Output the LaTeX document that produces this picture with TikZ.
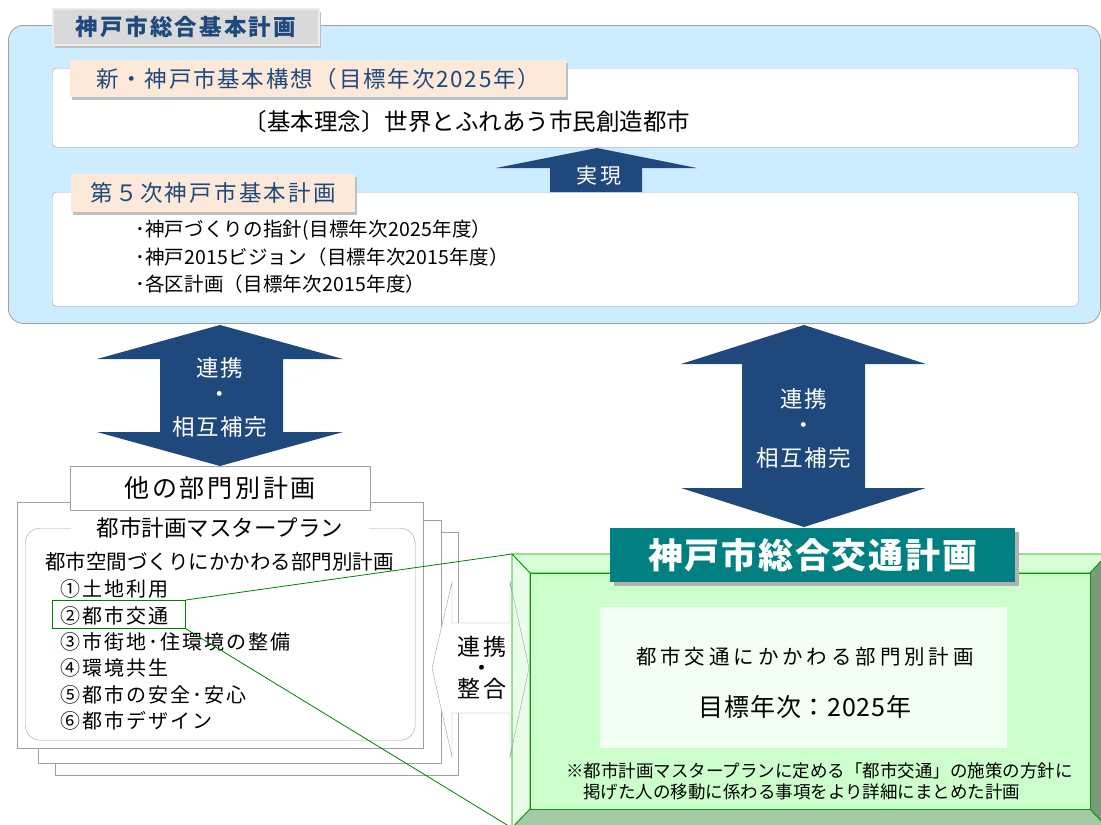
\documentclass[tikz,border=0pt]{standalone}
\usepackage{fontspec}
\setmainfont{Noto Sans CJK JP}
\usetikzlibrary{positioning,shadows}

\definecolor{paleblue}{RGB}{204,236,255}
\definecolor{tabgray}{RGB}{217,217,217}
\definecolor{peach}{RGB}{253,233,217}
\definecolor{kobeblue}{RGB}{31,73,125}
\definecolor{framegray}{RGB}{160,160,160}
\definecolor{bannerteal}{RGB}{0,128,128}
\definecolor{facegreen}{RGB}{204,255,204}
\definecolor{topbevel}{RGB}{214,255,214}
\definecolor{leftbevel}{RGB}{230,255,230}
\definecolor{lowbevel}{RGB}{165,201,165}
\definecolor{rightbevel}{RGB}{122,156,122}
\definecolor{edgegreen}{RGB}{0,153,0}
\definecolor{panelgreen}{RGB}{242,255,242}

\newcommand{\jpfont}[2]{\fontsize{#1pt}{#1pt}\selectfont\addfontfeature{LetterSpace=#2}}

\tikzset{
  sheet/.style={draw=framegray, fill=white, inner sep=0pt, anchor=north west},
  tagbox/.style={fill=peach, text=kobeblue, inner sep=0pt, anchor=north west,
    drop shadow={shadow xshift=2pt, shadow yshift=-3pt, fill=black!25, opacity=1}},
  arrowtext/.style={text=white, font=\jpfont{22.5}{7}, inner sep=0pt},
  listline/.style={font=\jpfont{19.5}{1}, inner sep=0pt, minimum height=26.5pt, anchor=west},
  planitem/.style={font=\jpfont{20}{10}, inner sep=0pt, minimum height=26pt, anchor=west},
  bevel/.style={draw=edgegreen, line width=0.8pt, line join=round},
  zoomline/.style={draw=green!50!black, line width=0.8pt},
}

\begin{document}
\begin{tikzpicture}[x=1pt, y=-1pt]
\useasboundingbox (0,0) rectangle (1101,825);

% 神戸市総合基本計画
\node[sheet, fill=paleblue, line width=0.8pt, rounded corners=15pt,
  minimum width=1092pt, minimum height=298pt] (sogo) at (8,25) {};
\node[tagbox, fill=tabgray, draw=black!8, line width=2pt, text=kobeblue,
  font=\bfseries\jpfont{22.5}{10}, minimum width=266pt, minimum height=36pt] (sogotab) at (52,8) {神戸市総合基本計画};

\node[sheet, rounded corners=4pt, minimum width=1026pt, minimum height=79pt] (koso) at (52,68) {};
\node[tagbox, font=\jpfont{22.5}{8}, minimum width=496pt, minimum height=37pt] (kosotag) at (70,60)
  {新・神戸市基本構想（目標年次2025年）};
\node[font=\jpfont{23.5}{0}] (rinen) at (467,122) {〔基本理念〕世界とふれあう市民創造都市};

\node[sheet, rounded corners=4pt, minimum width=1026pt, minimum height=114pt] (kihon) at (52,192) {};
\node[tagbox, font=\jpfont{22.5}{10}, minimum width=284pt, minimum height=38pt] (kihontag) at (71,174)
  {第５次神戸市基本計画};
\node[listline] (shishin) at (135,230) {･神戸づくりの指針(目標年次2025年度）};
\node[listline, below=0pt of shishin.south west, anchor=north west] (vision2015) {･神戸2015ビジョン（目標年次2015年度）};
\node[listline, below=0pt of vision2015.south west, anchor=north west] (kukeikaku) {･各区計画（目標年次2015年度）};

% 実現
\fill[kobeblue] (550,192) -- (550,168) -- (496,168) -- (597,148) -- (697,168) -- (642,168) -- (642,192) -- cycle;
\node[arrowtext, font=\jpfont{21}{10}] (jitsugen) at (599,176) {実現};

% 連携・相互補完
\fill[kobeblue] (220,325) -- (343,359) -- (283,359) -- (283,432) -- (343,432) -- (220,466)
  -- (97,432) -- (160,432) -- (160,359) -- (97,359) -- cycle;
\node[arrowtext] (renkeiL) at (220,368) {連携};
\node[arrowtext] (dotL) at (220,397) {・};
\node[arrowtext] (hokanL) at (220,427) {相互補完};

\fill[kobeblue] (804,325) -- (926,364) -- (865,364) -- (865,488) -- (926,488) -- (804,527)
  -- (681,488) -- (742,488) -- (742,364) -- (681,364) -- cycle;
\node[arrowtext] (renkeiR) at (804,399) {連携};
\node[arrowtext] (dotR) at (804,428) {・};
\node[arrowtext] (hokanR) at (804,458) {相互補完};

% 他の部門別計画
\node[sheet, minimum width=403pt, minimum height=243pt] (page3) at (55,532) {};
\node[sheet, minimum width=403pt, minimum height=243pt] (page2) at (38,520) {};
\node[sheet, minimum width=406pt, minimum height=246pt] (page1) at (17,502) {};
\node[sheet, rounded corners=15pt, minimum width=390pt, minimum height=212pt] (masterplan) at (25,528) {};
\node[fill=white, inner xsep=26pt, inner ysep=1pt, font=\jpfont{22.5}{0}] (mptitle) at (220,528) {都市計画マスタープラン};
\node[sheet, minimum width=300pt, minimum height=44pt, font=\jpfont{25}{11}] (others) at (70,466) {他の部門別計画};

\node[font=\jpfont{20.5}{0}, inner sep=0pt, anchor=west] (toshikukan) at (45,562) {都市空間づくりにかかわる部門別計画};
\node[planitem] (i1) at (60,589) {①土地利用};
\node[planitem, below=0pt of i1.south west, anchor=north west] (i2) {②都市交通};
\node[planitem, below=0pt of i2.south west, anchor=north west] (i3) {③市街地･住環境の整備};
\node[planitem, below=0pt of i3.south west, anchor=north west] (i4) {④環境共生};
\node[planitem, below=0pt of i4.south west, anchor=north west] (i5) {⑤都市の安全･安心};
\node[planitem, below=0pt of i5.south west, anchor=north west] (i6) {⑥都市デザイン};
\node[draw=green!50!black, line width=0.8pt, anchor=north west, minimum width=133pt, minimum height=28pt] (hl) at (52,600) {};

% 連携・整合
\filldraw[fill=white, draw=framegray] (432,668) -- (452,582) -- (452,623) -- (510,623) -- (510,582)
  -- (529,668) -- (510,757) -- (510,713) -- (452,713) -- (452,757) -- cycle;
\node[font=\jpfont{23}{17}, inner sep=0pt, align=center] (seigo) at (482,668) {連携\\[-2pt]・\\[-2pt]整合};

% 神戸市総合交通計画
\coordinate (go1) at (512,554);
\coordinate (go2) at (1108,554);
\coordinate (go3) at (1108,828);
\coordinate (go4) at (512,828);
\coordinate (gi1) at (530,573);
\coordinate (gi2) at (1090,573);
\coordinate (gi3) at (1090,809);
\coordinate (gi4) at (530,809);
\filldraw[bevel, fill=topbevel] (go1) -- (go2) -- (gi2) -- (gi1) -- cycle;
\filldraw[bevel, fill=leftbevel] (go1) -- (gi1) -- (gi4) -- (go4) -- cycle;
\filldraw[bevel, fill=lowbevel] (gi4) -- (gi3) -- (go3) -- (go4) -- cycle;
\filldraw[bevel, fill=rightbevel] (gi2) -- (go2) -- (go3) -- (gi3) -- cycle;
\filldraw[bevel, fill=facegreen] (gi1) rectangle (gi3);
\draw[framegray] (510,582) -- (529,668) -- (510,757);

\draw[zoomline] (hl.north east) -- (go1);
\draw[zoomline] (hl.south east) -- (go4);

\node[anchor=north west, fill=bannerteal, text=white, font=\bfseries\jpfont{35}{5}, inner sep=0pt,
  minimum width=405pt, minimum height=54pt,
  drop shadow={shadow xshift=4pt, shadow yshift=-4pt, fill=black!30, opacity=1}] (kotsu) at (610,528) {神戸市総合交通計画};

\node[fill=panelgreen, anchor=north west, minimum width=407pt, minimum height=141pt] (bumon) at (600,607) {};
\node[font=\jpfont{20.5}{19}] (bumontext) at (805,657) {都市交通にかかわる部門別計画};
\node[font=\jpfont{25}{3}] (mokuhyo) at (805,707) {目標年次：2025年};

\node[font=\jpfont{17.5}{0}, inner sep=0pt, anchor=west] (note1) at (566,771) {※都市計画マスタープランに定める「都市交通」の施策の方針に};
\node[font=\jpfont{17.5}{0}, inner sep=0pt, anchor=west] (note2) at (583,792) {掲げた人の移動に係わる事項をより詳細にまとめた計画};
\end{tikzpicture}
\end{document}
